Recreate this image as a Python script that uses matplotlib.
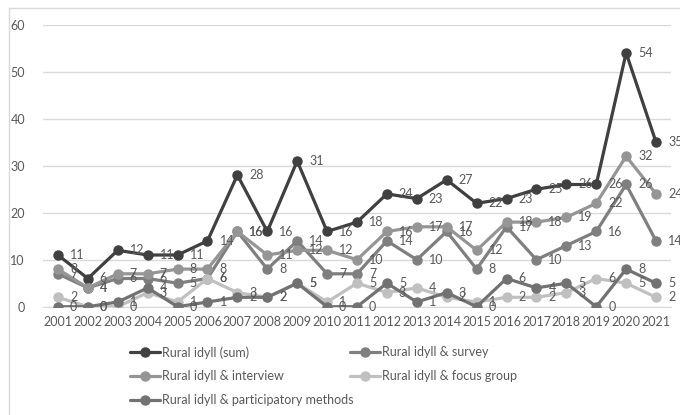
import matplotlib.pyplot as plt
from matplotlib.lines import Line2D

plt.rcParams['font.family'] = ['Lato', 'DejaVu Sans']

years = [str(y) for y in range(2001, 2022)]

# values
rural_sum = [11, 6, 12, 11, 11, 14, 28, 16, 31, 16, 18, 24, 23, 27, 22, 23, 25, 26, 26, 54, 35]
survey = [7, 4, 6, 6, 5, 6, 16, 8, 14, 7, 7, 14, 10, 16, 8, 17, 10, 13, 16, 26, 14]
interview = [8, 4, 7, 7, 8, 8, 16, 11, 12, 12, 10, 16, 17, 17, 12, 18, 18, 19, 22, 32, 24]
focus_group = [2, 0, 0, 3, 1, 6, 3, 2, 5, 1, 5, 3, 4, 2, 1, 2, 2, 3, 6, 5, 2]
participatory = [0, 0, 1, 4, 0, 1, 2, 2, 5, 0, 0, 5, 1, 3, 0, 6, 4, 5, 0, 8, 5]

series = [
    ("Rural idyll (sum)", rural_sum, "#404040"),
    ("Rural idyll & survey", survey, "#7f7f7f"),
    ("Rural idyll & interview", interview, "#959595"),
    ("Rural idyll & focus group", focus_group, "#c0c0c0"),
    ("Rural idyll & participatory methods", participatory, "#727272"),
]

text_col = "#595959"
grid_col = "#d9d9d9"

fig = plt.figure(figsize=(6.8, 4.15), dpi=100)
ax = fig.add_axes([43 / 680, 1 - 306.7 / 415, 628 / 680, 282 / 415])

x = list(range(len(years)))
handles = []
for k, (name, vals, col) in enumerate(series):
    ln, = ax.plot(x, vals, color=col, lw=2.3, marker='o', ms=6.5,
                  solid_capstyle='round', zorder=3 + k, label=name)
    handles.append(ln)

# data labels, right of each point
for name, vals, col in series:
    for i, v in enumerate(vals):
        ax.annotate(str(v), (i, v), xytext=(12, 0), textcoords='offset pixels',
                    ha='left', va='center', fontsize=9, color=text_col, zorder=20,
                    annotation_clip=False)

ax.set_xlim(-0.5, len(years) - 0.5)
ax.set_ylim(0, 60)
ax.set_yticks(range(0, 61, 10))
ax.set_xticks(x)
ax.set_xticklabels(years)
ax.tick_params(axis='both', length=0, labelsize=9, labelcolor=text_col)
ax.tick_params(axis='y', pad=13)
ax.tick_params(axis='x', pad=7)
ax.grid(axis='y', color=grid_col, lw=1)
ax.set_axisbelow(True)
for s in ['top', 'right', 'left']:
    ax.spines[s].set_visible(False)
ax.spines['bottom'].set_color(grid_col)

# chart frame (left and top edges visible)
fig.add_artist(Line2D([9 / 680, 9 / 680], [0, 1 - 8 / 415], transform=fig.transFigure,
                      color=grid_col, lw=1))
fig.add_artist(Line2D([9 / 680, 1], [1 - 8 / 415, 1 - 8 / 415], transform=fig.transFigure,
                      color=grid_col, lw=1))

# legend: two blocks so the rows line up like the original
leg_kw = dict(frameon=False, fontsize=9, handlelength=2.4, handletextpad=0.15,
              labelspacing=0.95, borderpad=0, borderaxespad=0, labelcolor=text_col)
leg1 = fig.legend([handles[0], handles[2], handles[4]],
                  [series[0][0], series[2][0], series[4][0]],
                  loc='upper left', bbox_to_anchor=(130 / 680, 1 - 346 / 415), **leg_kw)
leg2 = fig.legend([handles[1], handles[3]], [series[1][0], series[3][0]],
                  loc='upper left', bbox_to_anchor=(350 / 680, 1 - 346 / 415), **leg_kw)

fig.savefig('out.png', dpi=100)
